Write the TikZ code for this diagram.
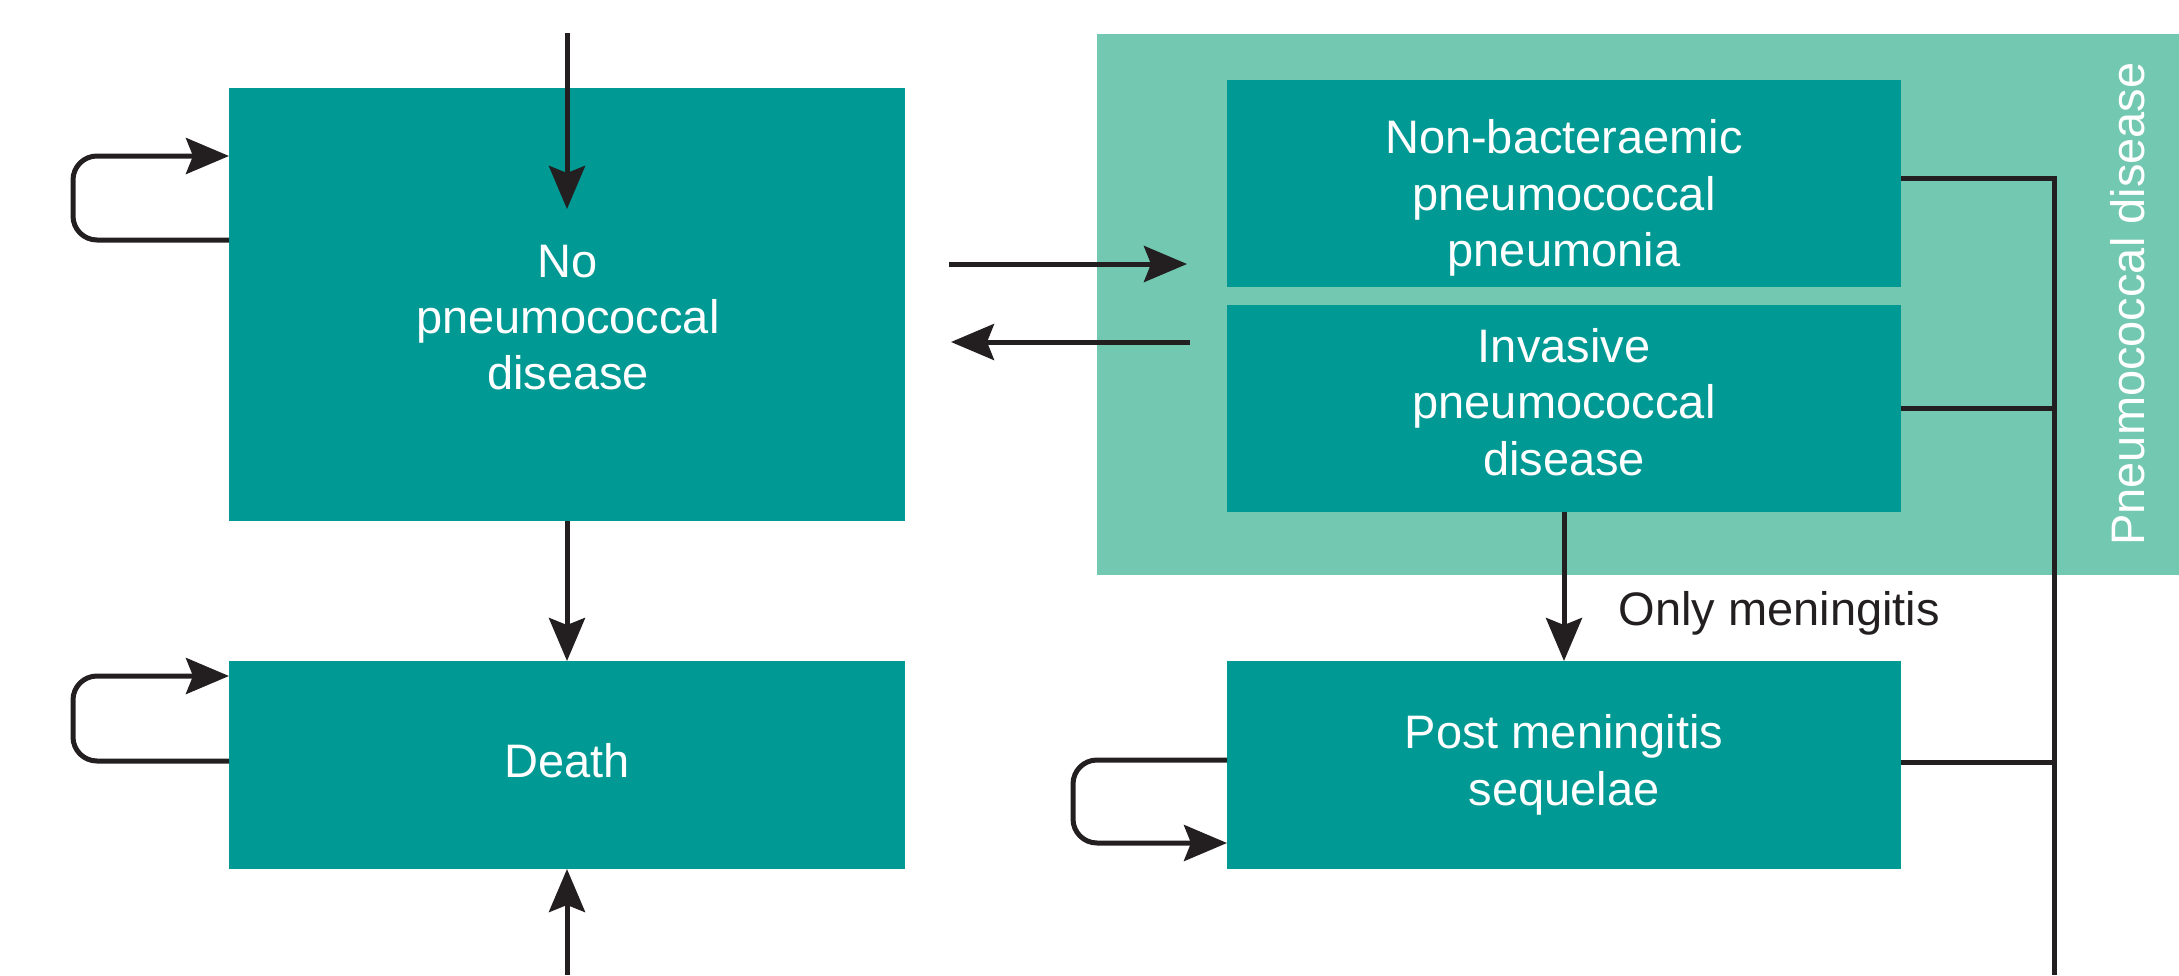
\documentclass[tikz,border=0pt]{standalone}
\usepackage{fontspec}
\setmainfont{Liberation Sans}
\usetikzlibrary{arrows.meta}
\definecolor{teal1}{RGB}{0,153,147}
\definecolor{mint}{RGB}{114,200,176}
\definecolor{ink}{RGB}{35,31,32}
\begin{document}
\begin{tikzpicture}[x=0.5pt,y=-0.5pt,
  box/.style={fill=teal1, draw=none, inner sep=0pt, outer sep=0pt, minimum width=338pt},
  region/.style={fill=mint, draw=none, inner sep=0pt, outer sep=0pt},
  boxtext/.style={text=white, font=\fontsize{23.5}{28.2}\selectfont, align=center, inner sep=0pt},
  lbl/.style={text=ink, font=\fontsize{23.5}{28.2}\selectfont, inner sep=0pt},
  conn/.style={draw=ink, line width=2.5pt},
  arr/.style={conn, -{Stealth[length=21.5pt, width=18pt, inset=3.5pt]}},
  loop/.style={arr, rounded corners=12pt}]
\useasboundingbox (0,0) rectangle (2179,975);
% region
\node[region, minimum width=541pt, minimum height=270.5pt] (pd) at (1638,304.5) {};
\node[boxtext, rotate=90] (pdtext) at (2128,304) {Pneumococcal disease};
% boxes
\node[box, minimum height=216.5pt] (No) at (567,304.5) {};
\node[boxtext] (Notext) at (568,317.5) {No\\pneumococcal\\disease};
\node[box, minimum height=104pt] (Death) at (567,765) {};
\node[boxtext] (Deathtext) at (567,760.5) {Death};
\node[box, minimum width=337pt, minimum height=103.5pt] (NB) at (1564,183.5) {};
\node[boxtext] (NBtext) at (1564,198) {Non-bacteraemic\\pneumococcal\\pneumonia};
\node[box, minimum width=337pt, minimum height=103.5pt] (IPD) at (1564,408.5) {};
\node[boxtext] (IPDtext) at (1564,402) {Invasive\\pneumococcal\\disease};
\node[box, minimum width=337pt, minimum height=104pt] (PMS) at (1564,765) {};
\node[boxtext] (PMStext) at (1564,765) {Post meningitis\\sequelae};
% free ends
\coordinate (topin) at (567,33);
\coordinate (topend) at (567,209);
\coordinate (botin) at (567,975);
\coordinate (r1) at (0,264);
\coordinate (r2) at (0,342);
\coordinate (vt) at (2054,178);
\coordinate (vb) at (2054,975);
\coordinate (ipdr) at (0,408);
\coordinate (pmsr) at (0,762);
% arrows
\draw[arr] (topin) -- (topend);
\draw[arr] (No.south) -- (Death.north);
\draw[arr] (botin) -- (Death.south);
\draw[arr, shorten <=22pt, shorten >=20pt] (No.east |- r1) -- (NB.west |- r1);
\draw[arr, shorten <=18.5pt, shorten >=23pt] (IPD.west |- r2) -- (No.east |- r2);
\draw[arr] (IPD.south) -- (PMS.north)
  node[lbl, anchor=west, pos=0.68, xshift=26pt] (only) {Only meningitis};
% loops
\draw[loop] (No.west |- 0,240) -| (73,156) -- (No.west |- 0,156);
\draw[loop] (Death.west |- 0,761) -| (73,676) -- (Death.west |- 0,676);
\draw[loop] (PMS.west |- 0,760) -| (1073,843) -- (PMS.west |- 0,843);
% right connector
\draw[conn] (NB.east |- vt) -- (vt) -- (vb);
\draw[conn] (IPD.east |- ipdr) -- (vt |- ipdr);
\draw[conn] (PMS.east |- pmsr) -- (vt |- pmsr);
\end{tikzpicture}
\end{document}
